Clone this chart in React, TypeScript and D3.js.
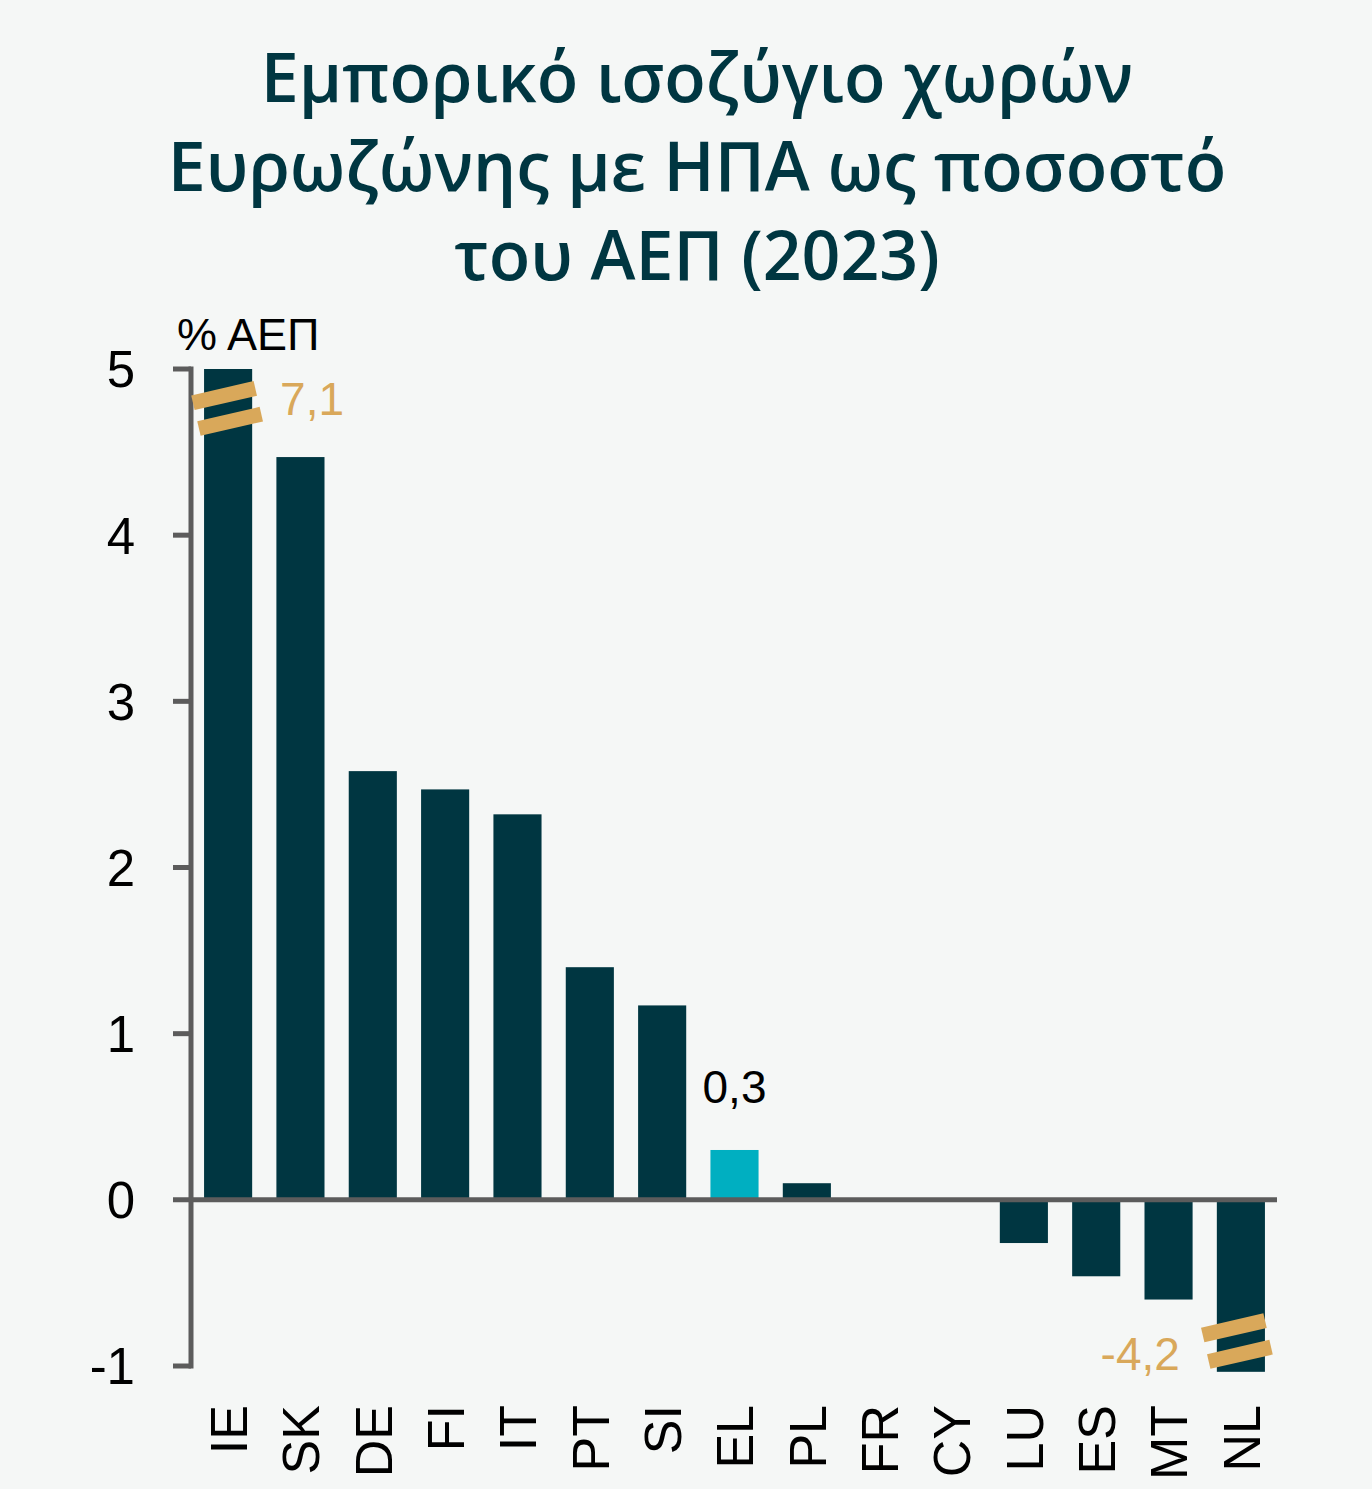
import * as d3 from "d3";

const countries = ["IE", "SK", "DE", "FI", "IT", "PT", "SI", "EL", "PL", "FR", "CY", "LU", "ES", "MT", "NL"];
const balance = [7.1, 4.47, 2.58, 2.47, 2.32, 1.4, 1.17, 0.3, 0.1, 0, 0, -0.26, -0.46, -0.6, -4.2];
const yTicks = [-1, 0, 1, 2, 3, 4, 5];
const titleLines = ["Εμπορικό ισοζύγιο χωρών", "Ευρωζώνης με ΗΠΑ ως ποσοστό", "του ΑΕΠ (2023)"];
const highlight = "EL";
const unitLabel = "% ΑΕΠ";

const colors = {
  bg: "#f5f7f6",
  bar: "#003641",
  highlight: "#00afc1",
  axis: "#5c5c5c",
  brk: "#d9a85a",
  title: "#003641",
};

const fmt = (v: number) => v.toFixed(1).replace(".", ",");

export default function App() {
  const width = 1372;
  const height = 1489;
  const x = d3.scaleBand().domain(countries).range([192, 1277]).paddingInner(0.335).paddingOuter(1 / 6);
  const y = d3.scaleLinear().domain([-1, 5]).range([1366, 369]);
  const clipMin = -1.035;
  const clipMax = 5;
  const axisX = 191;
  const sans = "'Liberation Sans', Arial, sans-serif";

  return (
    <>
      <style>{"body{margin:0}"}</style>
      <svg width={width} height={height} viewBox={`0 0 ${width} ${height}`} style={{ display: "block" }}>
        <rect width={width} height={height} fill={colors.bg} />
        {titleLines.map((line, i) => (
          <text
            key={line}
            x={697}
            y={102 + i * 89}
            textAnchor="middle"
            fill={colors.title}
            fontFamily="'Open Sans', 'Noto Sans', sans-serif"
            fontWeight={600}
            fontSize={68}
          >
            {line}
          </text>
        ))}
        <text x={177} y={350} fontFamily={sans} fontSize={45} fill="#000">
          {unitLabel}
        </text>

        {countries.map((c, i) => {
          const v = Math.max(clipMin, Math.min(clipMax, balance[i]));
          const bx = x(c) ?? 0;
          return (
            <rect
              key={c}
              x={bx}
              width={x.bandwidth()}
              y={Math.min(y(v), y(0))}
              height={Math.abs(y(v) - y(0))}
              fill={c === highlight ? colors.highlight : colors.bar}
            />
          );
        })}

        {/* axes */}
        <line x1={axisX} x2={axisX} y1={y(5) - 2.5} y2={y(-1) + 2.5} stroke={colors.axis} strokeWidth={5} />
        {yTicks.map((t) => (
          <g key={t}>
            <line x1={173} x2={t === 0 ? 1277 : axisX} y1={y(t)} y2={y(t)} stroke={colors.axis} strokeWidth={5} />
            <text x={135} y={y(t)} dy="0.36em" textAnchor="end" fontFamily={sans} fontSize={51} fill="#000">
              {t}
            </text>
          </g>
        ))}

        {/* break marks and out-of-range values */}
        {countries.map((c, i) => {
          const v = balance[i];
          if (v <= clipMax && v >= clipMin) return null;
          const cx = (x(c) ?? 0) + x.bandwidth() / 2;
          const top = v > clipMax;
          const marks = top
            ? [
                { dx: -4, v: 4.84 },
                { dx: 2, v: 4.685 },
              ]
            : [
                { dx: -7, v: -0.77 },
                { dx: -1, v: -0.93 },
              ];
          return (
            <g key={`brk-${c}`}>
              {marks.map((m, k) => (
                <rect
                  key={k}
                  x={-32}
                  y={-7.5}
                  width={64}
                  height={15}
                  fill={colors.brk}
                  transform={`translate(${cx + m.dx},${y(m.v)}) rotate(-13)`}
                />
              ))}
              <text
                x={top ? cx + 52 : cx - 61}
                y={top ? 415 : 1370}
                textAnchor={top ? "start" : "end"}
                fontFamily={sans}
                fontSize={46}
                fill={colors.brk}
              >
                {fmt(v)}
              </text>
            </g>
          );
        })}

        {/* highlighted value */}
        {countries.map((c, i) =>
          c === highlight ? (
            <text
              key={`val-${c}`}
              x={(x(c) ?? 0) + x.bandwidth() / 2}
              y={y(balance[i]) - 47}
              textAnchor="middle"
              fontFamily={sans}
              fontSize={46}
              fill="#000"
            >
              {fmt(balance[i])}
            </text>
          ) : null,
        )}

        {/* x labels */}
        {countries.map((c) => {
          const cx = (x(c) ?? 0) + x.bandwidth() / 2;
          return (
            <text
              key={`lab-${c}`}
              transform={`translate(${cx},1405) rotate(-90)`}
              dy="0.36em"
              textAnchor="end"
              fontFamily={sans}
              fontSize={52}
              fill="#000"
            >
              {c}
            </text>
          );
        })}
      </svg>
    </>
  );
}
